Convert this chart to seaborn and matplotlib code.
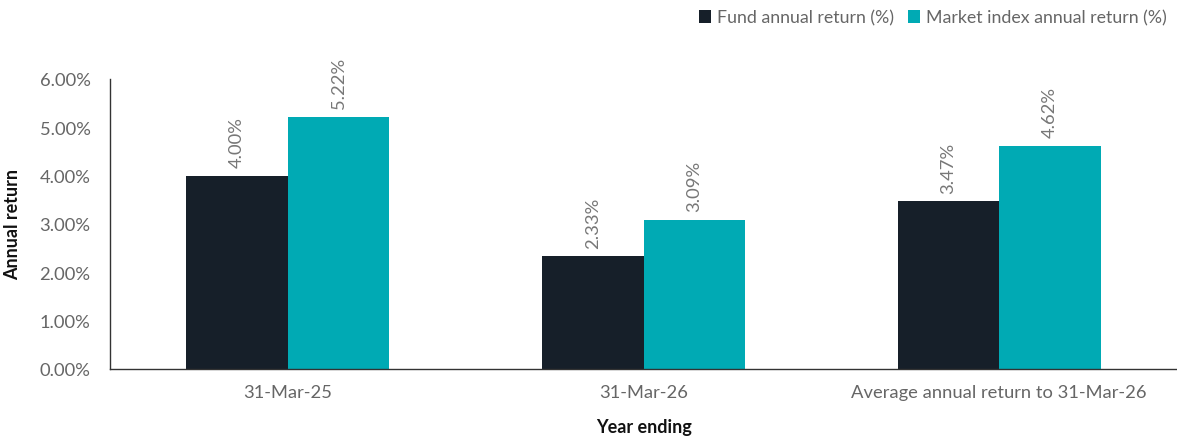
import matplotlib
matplotlib.use("Agg")
import matplotlib.pyplot as plt
import seaborn as sns
import pandas as pd
from matplotlib.ticker import FuncFormatter, FixedLocator

categories = ["31-Mar-25", "31-Mar-26", "Average annual return to 31-Mar-26"]
fund = [4.00, 2.33, 3.47]
market = [5.22, 3.09, 4.62]
series_names = ["Fund annual return (%)", "Market index annual return (%)"]
colors = ["#161f29", "#00aab4"]

df = pd.DataFrame({
    "cat": categories * 2,
    "val": fund + market,
    "series": [series_names[0]] * 3 + [series_names[1]] * 3,
})

sns.set_theme(style="white")
plt.rcParams['font.family'] = ['Lato', 'DejaVu Sans']

TXT = "#666666"
FS = 13.2

fig = plt.figure(figsize=(11.77, 4.39), dpi=100)
ax = fig.add_axes([110/1177, 1-370/439, 1-110/1177, (370-80)/439])
sns.barplot(data=df, x="cat", y="val", hue="series", palette=colors,
            width=0.57, ax=ax, saturation=1, legend=True, linewidth=0)

ax.set_xlim(-0.5, 2.5)
ax.set_ylim(0, 6)
ax.set_yticks([0, 1, 2, 3, 4, 5, 6])
ax.yaxis.set_major_formatter(FuncFormatter(lambda v, p: f"{v:.2f}%"))
ax.tick_params(axis='y', length=0, labelsize=FS, labelcolor=TXT, pad=14)
ax.tick_params(axis='x', which='major', length=0, labelsize=FS, labelcolor=TXT, pad=11)
ax.xaxis.set_minor_locator(FixedLocator([0.5, 1.5]))
ax.tick_params(axis='x', which='minor', length=5, color="#333333", width=1)

for s in ["top", "right"]:
    ax.spines[s].set_visible(False)
for s in ["left", "bottom"]:
    ax.spines[s].set_color("#333333")
    ax.spines[s].set_linewidth(1)

ax.set_xlabel("Year ending", fontsize=13, fontweight='bold', color="#111111", labelpad=13)
ax.set_ylabel("Annual return", fontsize=13, fontweight='bold', color="#111111", labelpad=13)

for cont in ax.containers:
    ax.bar_label(cont, labels=[f"{v:.2f}%" for v in cont.datavalues], rotation=90,
                 padding=6, fontsize=FS, color="#777777")

leg = ax.get_legend()
handles = leg.legend_handles
leg.remove()
fig.legend(handles, series_names, loc="upper right", bbox_to_anchor=(1.0, 1.0), ncol=2,
           frameon=False, handlelength=0.7, handleheight=0.7,
           handletextpad=0.3, columnspacing=0.8, borderaxespad=0.2,
           prop={'size': 12.8}, labelcolor=TXT)
fig.savefig("out.png", dpi=100)
